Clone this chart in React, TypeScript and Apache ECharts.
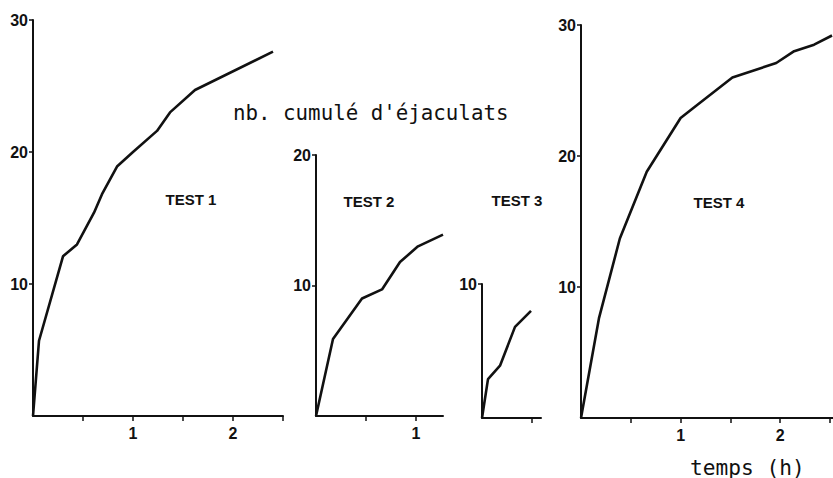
import React, { useEffect, useRef } from "react";
import * as echarts from "echarts";

// Data (time in hours, cumulative number of ejaculations)
const test1X = [0, 0.06, 0.3, 0.44, 0.61, 0.69, 0.84, 1.0, 1.24, 1.37, 1.62, 2.4];
const test1Y = [0, 5.7, 12.1, 13.0, 15.4, 16.8, 18.9, 20.0, 21.6, 23.0, 24.7, 27.6];

const test2X = [0, 0.17, 0.46, 0.66, 0.84, 1.02, 1.27];
const test2Y = [0, 5.9, 9.0, 9.7, 11.8, 13.0, 13.9];

const test3X = [0, 0.06, 0.18, 0.33, 0.49];
const test3Y = [0, 2.9, 3.9, 6.8, 8.0];

const test4X = [0, 0.18, 0.39, 0.66, 1.0, 1.15, 1.52, 1.96, 2.14, 2.34, 2.52];
const test4Y = [0, 7.6, 13.7, 18.8, 22.9, 23.8, 26.0, 27.1, 28.0, 28.5, 29.2];

const panelNames = ["TEST 1", "TEST 2", "TEST 3", "TEST 4"];
const xMaxes = [2.5, 1.27, 0.59, 2.55];
const yMaxes = [30, 20, 10, 30];
const xTickValues = [
  [0.5, 1, 1.5, 2, 2.5],
  [0.5, 1],
  [0.5],
  [0.5, 1, 1.5, 2, 2.5],
];
const xLabelValues = [[1, 2], [1], [], [1, 2]];
const yTickValues = [[10, 20, 30], [10, 20], [10], [10, 20, 30]];
const yAxisTitle = "nb. cumulé d'éjaculats";
const xAxisTitle = "temps (h)";

const seriesX = [test1X, test2X, test3X, test4X];
const seriesY = [test1Y, test2Y, test3Y, test4Y];

// layout (pixels)
const grids = [
  { left: 33, top: 20, width: 250, height: 396 },
  { left: 316, top: 155, width: 127, height: 261 },
  { left: 482, top: 284, width: 59, height: 134 },
  { left: 581, top: 25, width: 254, height: 393 },
];
const testLabelPos = [
  [191, 199],
  [369, 201],
  [517, 200],
  [719, 202],
];

const labelFont = {
  fontFamily: "'Liberation Sans', Arial, sans-serif",
  fontWeight: "bold" as const,
  fontSize: 16,
  color: "#111",
};

export default function App() {
  const ref = useRef<HTMLDivElement>(null);
  useEffect(() => {
    if (!ref.current) return;
    const chart = echarts.init(ref.current, undefined, { renderer: "svg" });
    const option: any = {
      animation: false,
      backgroundColor: "#fff",
      grid: grids.map((g) => ({ ...g, outerBoundsMode: "none", containLabel: false })),
      xAxis: grids.map((_, i) => ({
        type: "value",
        gridIndex: i,
        min: 0,
        max: xMaxes[i],
        splitLine: { show: false },
        axisLine: { show: true, onZero: false, lineStyle: { color: "#111", width: 2 } },
        axisTick: {
          show: true,
          inside: false,
          length: 5,
          customValues: xTickValues[i],
          lineStyle: { color: "#111", width: 1.5 },
        },
        axisLabel: {
          show: true,
          margin: 9,
          customValues: xLabelValues[i],
          ...labelFont,
        },
      })),
      yAxis: grids.map((_, i) => ({
        type: "value",
        gridIndex: i,
        min: 0,
        max: yMaxes[i],
        interval: 10,
        splitLine: { show: false },
        axisLine: { show: true, onZero: false, lineStyle: { color: "#111", width: 2 } },
        axisTick: {
          show: true,
          inside: false,
          length: 4,
          customValues: yTickValues[i],
          lineStyle: { color: "#111", width: 1.5 },
        },
        axisLabel: {
          show: true,
          margin: 5,
          customValues: yTickValues[i],
          ...labelFont,
        },
      })),
      series: seriesX.map((xs, i) => ({
        type: "line",
        xAxisIndex: i,
        yAxisIndex: i,
        symbol: "none",
        clip: false,
        lineStyle: { color: "#111", width: 2.6 },
        data: xs.map((x, k) => [x, seriesY[i][k]]),
      })),
      graphic: [
        ...panelNames.map((name, i) => ({
          type: "text",
          x: testLabelPos[i][0],
          y: testLabelPos[i][1],
          style: {
            text: name,
            fill: "#111",
            font: "bold 15px 'Liberation Sans', Arial, sans-serif",
            textAlign: "center",
            textVerticalAlign: "middle",
          },
        })),
        {
          type: "text",
          x: 233,
          y: 113,
          style: {
            text: yAxisTitle,
            fill: "#111",
            font: "20.8px 'DejaVu Sans Mono', 'Liberation Mono', monospace",
            textAlign: "left",
            textVerticalAlign: "middle",
          },
        },
        {
          type: "text",
          x: 690,
          y: 467,
          style: {
            text: xAxisTitle,
            fill: "#111",
            font: "21.2px 'DejaVu Sans Mono', 'Liberation Mono', monospace",
            textAlign: "left",
            textVerticalAlign: "middle",
          },
        },
      ],
    };
    chart.setOption(option);
    return () => chart.dispose();
  }, []);
  return (
    <div
      ref={ref}
      style={{ position: "absolute", left: 0, top: 0, width: 833, height: 478, background: "#fff" }}
    />
  );
}
